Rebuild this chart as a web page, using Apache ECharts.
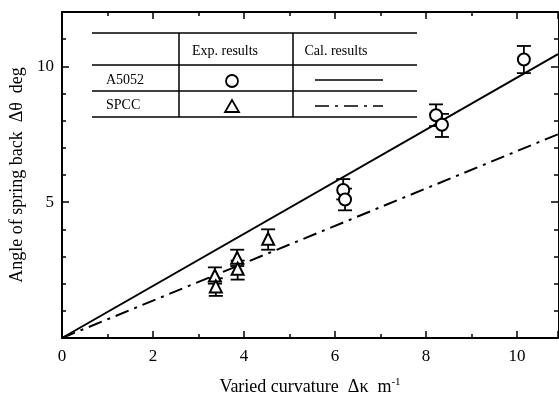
<!DOCTYPE html>
<html><head><meta charset="utf-8">
<script src="https://cdn.jsdelivr.net/npm/echarts@6/dist/echarts.min.js"></script>
<style>html,body{margin:0;padding:0;background:#fff}#c{width:559px;height:396px}</style>
</head><body><div id="c"></div>
<script>
// Experimental results
const a5052X = [6.18, 6.22, 8.22, 8.35, 10.15];
const a5052Y = [5.45, 5.1, 8.2, 7.85, 10.25];
const a5052Lo = [5.1, 4.7, 7.8, 7.4, 9.75];
const a5052Hi = [5.85, 5.5, 8.6, 8.25, 10.75];
const spccX = [3.36, 3.38, 3.85, 3.86, 4.53];
const spccY = [2.3, 1.9, 2.95, 2.55, 3.65];
const spccLo = [2.0, 1.55, 2.65, 2.15, 3.25];
const spccHi = [2.6, 2.2, 3.25, 2.85, 4.0];
// Calculated results
const calX = [0, 10.9];
const a5052Cal = [0, 10.45];
const spccCal = [0, 7.5];
// Axis
const xTicks = [0, 2, 4, 6, 8, 10];
const yTicks = [5, 10];

const FONT = 'Liberation Serif';
const zip = (xs, ys) => xs.map((x, i) => [x, ys[i]]);
const errData = (xs, lo, hi) => xs.map((x, i) => [x, lo[i], hi[i]]);

function errRender(params, api) {
  const x = api.value(0), lo = api.value(1), hi = api.value(2);
  const p1 = api.coord([x, hi]), p2 = api.coord([x, lo]);
  const w = 7;
  const st = {stroke: '#000', lineWidth: 1.8};
  return {type: 'group', children: [
    {type: 'line', shape: {x1: p1[0], y1: p1[1], x2: p2[0], y2: p2[1]}, style: st},
    {type: 'line', shape: {x1: p1[0]-w, y1: p1[1], x2: p1[0]+w, y2: p1[1]}, style: st},
    {type: 'line', shape: {x1: p2[0]-w, y1: p2[1], x2: p2[0]+w, y2: p2[1]}, style: st}
  ]};
}

const chart = echarts.init(document.getElementById('c'));
const axisCommon = {
  axisLine: {show: true, onZero: false, lineStyle: {color: '#000', width: 2}},
  axisTick: {show: true, inside: true, length: 7, lineStyle: {color: '#000', width: 1.5}},
  minorTick: {show: true, splitNumber: 2, length: 4, lineStyle: {color: '#000', width: 1.5}},
  splitLine: {show: false}
};
const tbl = {stroke: '#000', lineWidth: 1.5};
const tx = (x, y, t, align) => ({type: 'text', x: x, y: y, style: {text: t, font: '14px ' + FONT, fill: '#000', align: align || 'left', verticalAlign: 'middle'}});
const hl = (x1, x2, y) => ({type: 'line', shape: {x1, y1: y, x2, y2: y}, style: tbl});
const vl = (x, y1, y2) => ({type: 'line', shape: {x1: x, y1, x2: x, y2}, style: tbl});

chart.setOption({
  animation: false,
  backgroundColor: '#fff',
  textStyle: {fontFamily: FONT},
  grid: {left: 62, right: 1, top: 12, bottom: 58, containLabel: false, outerBoundsMode: 'none'},
  xAxis: [
    Object.assign({}, axisCommon, {
      type: 'value', min: 0, max: 10.9, interval: 2,
      axisLabel: {color: '#000', fontSize: 17, fontFamily: FONT, margin: 10,
        formatter: v => xTicks.includes(v) ? String(v) : ''},
      name: 'Varied curvature  Δκ  m{s|-1}', nameLocation: 'middle', nameGap: 39,
      nameTextStyle: {color: '#000', fontSize: 18, fontFamily: FONT,
        rich: {s: {fontSize: 11, fontFamily: FONT, color: '#000', padding: [0, 0, 10, 0]}}}
    }),
    Object.assign({}, axisCommon, {
      type: 'value', min: 0, max: 10.9, interval: 2, position: 'top',
      axisLabel: {show: false}
    })
  ],
  yAxis: [
    Object.assign({}, axisCommon, {
      type: 'value', min: 0, max: 12, interval: 5,
      minorTick: Object.assign({}, axisCommon.minorTick, {splitNumber: 5}),
      axisLabel: {color: '#000', fontSize: 17, fontFamily: FONT, margin: 8,
        formatter: v => yTicks.includes(v) ? String(v) : ''},
      name: 'Angle of spring back  Δθ  deg', nameLocation: 'middle', nameGap: 31,
      nameTextStyle: {color: '#000', fontSize: 18, fontFamily: FONT}
    }),
    Object.assign({}, axisCommon, {
      type: 'value', min: 0, max: 12, interval: 5, position: 'right',
      minorTick: Object.assign({}, axisCommon.minorTick, {splitNumber: 5}),
      axisLine: {show: true, onZero: false, lineStyle: {color: '#000', width: 1}},
      axisLabel: {show: false}
    })
  ],
  series: [
    {type: 'line', data: zip(calX, a5052Cal), symbol: 'none', lineStyle: {color: '#000', width: 2}},
    {type: 'line', data: zip(calX, spccCal), symbol: 'none', lineStyle: {color: '#000', width: 2, type: [14, 6, 3, 6]}},
    {type: 'custom', renderItem: errRender, data: errData(a5052X, a5052Lo, a5052Hi), z: 3},
    {type: 'custom', renderItem: errRender, data: errData(spccX, spccLo, spccHi), z: 3},
    {type: 'scatter', data: zip(a5052X, a5052Y), symbol: 'circle', symbolSize: 12, z: 4,
      itemStyle: {color: '#fff', borderColor: '#000', borderWidth: 2, opacity: 1}},
    {type: 'scatter', data: zip(spccX, spccY), symbol: 'triangle', symbolSize: 12, z: 4,
      itemStyle: {color: '#fff', borderColor: '#000', borderWidth: 2, opacity: 1}}
  ],
  graphic: [
    hl(92, 417, 33), hl(92, 417, 65), hl(92, 417, 91), hl(92, 417, 117),
    vl(179, 33, 117), vl(293, 33, 117),
    tx(225, 51, 'Exp. results', 'center'), tx(336, 51, 'Cal. results', 'center'),
    tx(106, 80, 'A5052'), tx(106, 105, 'SPCC'),
    {type: 'circle', shape: {cx: 232, cy: 81, r: 6}, style: {fill: '#fff', stroke: '#000', lineWidth: 1.8}},
    {type: 'polygon', shape: {points: [[232, 100], [225, 112], [239, 112]]}, style: {fill: '#fff', stroke: '#000', lineWidth: 1.8}},
    {type: 'line', shape: {x1: 315, y1: 80, x2: 383, y2: 80}, style: {stroke: '#000', lineWidth: 1.5}},
    {type: 'line', shape: {x1: 315, y1: 106, x2: 383, y2: 106}, style: {stroke: '#000', lineWidth: 1.5, lineDash: [14, 6, 3, 6]}}
  ]
});
</script></body></html>
